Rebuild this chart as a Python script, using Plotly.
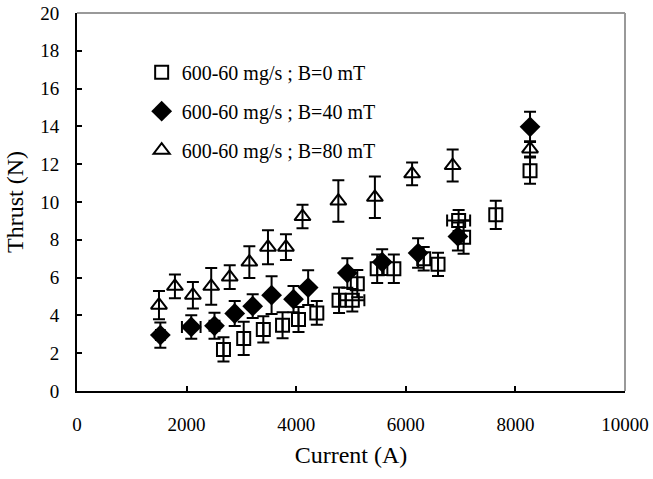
import plotly.graph_objects as go

# B = 0 mT (open squares)
sq_x = [2673, 3042, 3400, 3751, 4042, 4376, 4782, 5024, 5115, 5478, 5782, 6327, 6588, 6964, 7055, 7642, 8267]
sq_y = [2.20, 2.78, 3.26, 3.48, 3.78, 4.13, 4.80, 4.80, 5.68, 6.47, 6.47, 7.00, 6.70, 9.02, 8.14, 9.32, 11.66]
sq_err = [0.64, 0.88, 0.69, 0.69, 0.66, 0.63, 0.67, 0.60, 0.72, 0.75, 0.75, 0.62, 0.62, 0.56, 0.88, 0.75, 0.70]
sq_xerr = [0, 0, 0, 0, 0, 0, 0, 220, 0, 0, 0, 0, 0, 210, 0, 0, 0]

# B = 40 mT (filled diamonds)
di_x = [1521, 2085, 2509, 2878, 3206, 3551, 3951, 4218, 4933, 5569, 6224, 6951, 8267]
di_y = [2.96, 3.39, 3.45, 4.10, 4.49, 5.07, 4.86, 5.47, 6.24, 6.82, 7.30, 8.18, 13.98]
di_err = [0.67, 0.62, 0.69, 0.66, 0.63, 1.00, 0.69, 0.92, 0.78, 0.68, 0.78, 0.74, 0.80]
di_xerr = [80, 170, 90, 0, 0, 0, 0, 0, 0, 0, 0, 0, 0]

# B = 80 mT (open triangles)
tr_x = [1496, 1787, 2115, 2449, 2787, 3145, 3485, 3813, 4115, 4769, 5436, 6115, 6855, 8267]
tr_y = [4.54, 5.54, 5.07, 5.54, 6.03, 6.82, 7.61, 7.61, 9.23, 10.05, 10.25, 11.49, 11.93, 12.81]
tr_err = [0.75, 0.63, 0.70, 0.97, 0.63, 0.84, 0.90, 0.68, 0.62, 1.10, 1.10, 0.60, 0.85, 0.40]

names = ["600-60 mg/s ; B=0 mT", "600-60 mg/s ; B=40 mT", "600-60 mg/s ; B=80 mT"]
x_ticks = [0, 2000, 4000, 6000, 8000, 10000]
y_ticks = [0, 2, 4, 6, 8, 10, 12, 14, 16, 18, 20]

FONT = "Liberation Serif, Times New Roman, serif"

def eb(arr):
    return dict(type="data", array=arr, visible=True, color="black", thickness=2, width=6)

fig = go.Figure()
fig.add_trace(go.Scatter(
    x=sq_x, y=sq_y, mode="markers", name=names[0], legendgroup="a",
    marker=dict(symbol="square-open", size=13, color="black", line=dict(width=2, color="black")),
    error_y=eb(sq_err), error_x=eb(sq_xerr)))
fig.add_trace(go.Scatter(
    x=di_x, y=di_y, mode="markers", name=names[1], legendgroup="b",
    marker=dict(symbol="diamond", size=16, color="black", line=dict(width=0)),
    error_y=eb(di_err), error_x=eb(di_xerr)))
fig.add_trace(go.Scatter(
    x=tr_x, y=tr_y, mode="markers", name=names[2], legendgroup="c",
    marker=dict(symbol="triangle-up-open", size=14, color="black", line=dict(width=2, color="black")),
    error_y=eb(tr_err)))

axis_common = dict(
    showline=True, linecolor="black", linewidth=2,
    ticks="inside", ticklen=5, tickwidth=2, tickcolor="black",
    showgrid=False, zeroline=False, automargin=False,
    tickfont=dict(family=FONT, size=19, color="black"),
)

fig.update_xaxes(range=[0, 10000], tickvals=x_ticks, ticktext=[str(v) for v in x_ticks],
                 title=dict(text="Current (A)", font=dict(family=FONT, size=24, color="black"), standoff=12),
                 ticklabelstandoff=15, **axis_common)
fig.update_yaxes(range=[0, 20], tickvals=y_ticks, ticktext=[str(v) for v in y_ticks],
                 title=dict(text="Thrust (N)", font=dict(family=FONT, size=24, color="black"), standoff=10),
                 ticklabelstandoff=12, **axis_common)

# gray frame on top and right
fig.add_shape(type="line", xref="paper", yref="paper", x0=0, y0=1, x1=1, y1=1,
              line=dict(color="#999999", width=2), layer="above")
fig.add_shape(type="line", xref="paper", yref="paper", x0=1, y0=0, x1=1, y1=1,
              line=dict(color="#999999", width=2), layer="above")

fig.update_layout(
    width=653, height=479,
    margin=dict(l=77, r=28, t=13, b=88, autoexpand=False),
    paper_bgcolor="white", plot_bgcolor="white",
    font=dict(family=FONT, color="black"),
    showlegend=True,
    legend=dict(x=0.118, y=0.895, xanchor="left", yanchor="top",
                bgcolor="rgba(0,0,0,0)", font=dict(family=FONT, size=20, color="black"),
                tracegroupgap=10, itemwidth=30),
)

fig.write_html("out.html", config={"displayModeBar": False},
               post_script="document.body.style.margin='0';document.body.style.overflow='hidden';")
